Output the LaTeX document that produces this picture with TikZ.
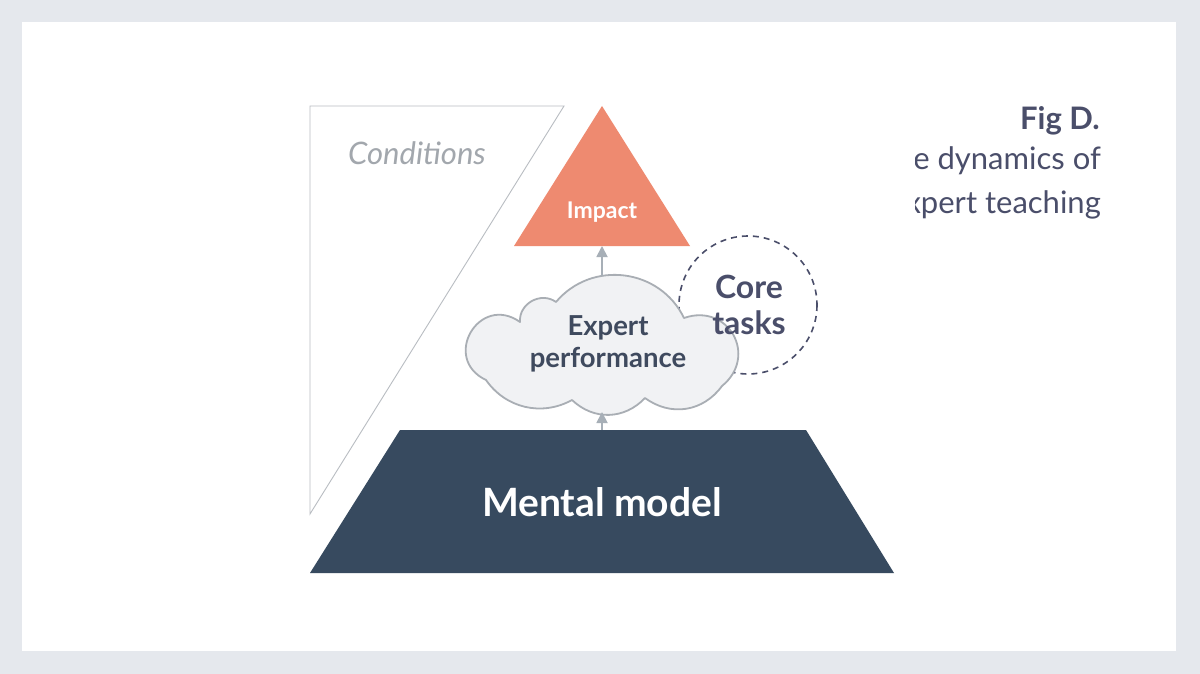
\documentclass[tikz,border=0pt]{standalone}
\usepackage{fontspec}
\setmainfont{Lato}
\usetikzlibrary{arrows.meta}
\definecolor{bggray}{HTML}{E5E8ED}
\definecolor{condline}{HTML}{B9BDC2}
\definecolor{condtext}{HTML}{A2A7AD}
\definecolor{impactc}{HTML}{EE8A70}
\definecolor{cloudfill}{HTML}{F1F2F4}
\definecolor{cloudline}{HTML}{A9AEB4}
\definecolor{arrowc}{HTML}{A7AFB7}
\definecolor{slate}{HTML}{374A5F}
\definecolor{darktext}{HTML}{3F4A5E}
\definecolor{figtext}{HTML}{4A4E6A}
\tikzset{
  conn/.style={draw=arrowc, line width=1.8pt, -{Triangle[width=11pt,length=11pt]}},
  lbl/.style={inner sep=0pt, font=\bfseries},
  cloudline/.style={draw=cloudline, line width=1.8pt, fill=cloudfill, line join=round},
}
\begin{document}
\begin{tikzpicture}[x=1pt,y=-1pt]
\fill[bggray] (0,0) rectangle (1200,674);
\fill[white] (22,22) rectangle (1176,651);
\useasboundingbox (0,0) rectangle (1200,674);
% Conditions
\draw[condline, line width=0.9pt] (310,106) -- (564,106) -- (310,514) -- cycle;
\node[inner sep=0pt, text=condtext, font=\itshape\fontsize{31}{36}\selectfont] (cond) at (417,153) {Conditions};
% Impact triangle
\fill[impactc] (602,106) -- (690,246) -- (514,246) -- cycle;
\node[lbl, text=white, font=\bfseries\fontsize{23}{26}\selectfont] (impact) at (602,212) {Impact};
\coordinate (imbase) at (602,246);
% Core tasks circle
\draw[figtext, line width=1.6pt, dash pattern=on 6pt off 5pt] (748,305) circle (69);
% Cloud
\coordinate (v1) at (556,302);
\coordinate (v2) at (684,318);
\coordinate (v3) at (722,386);
\coordinate (v4) at (645,398);
\coordinate (v5) at (572,400);
\coordinate (v6) at (486,380);
\coordinate (v7) at (520,322);
\path[cloudline] (v1) to[bend left=57, looseness=1.1] (v2)
  to[bend left=80, looseness=1.55] (v3)
  to[bend left=45, looseness=1.05] (v4)
  to[bend left=45, looseness=1.05] (v5)
  to[bend left=42, looseness=1.0] (v6)
  to[bend left=95, looseness=1.9] (v7)
  to[bend left=65, looseness=1.15] (v1) -- cycle;
\coordinate (eptop) at (602,276);
\coordinate (epbot) at (602,412);
\node[lbl, text=darktext, align=center, font=\bfseries\fontsize{27.5}{32}\selectfont] (ep) at (608,344) {Expert\\performance};
\node[lbl, text=figtext, align=center, font=\bfseries\fontsize{32}{36}\selectfont] (core) at (749,305) {Core\\tasks};
% Mental model trapezoid
\fill[slate] (400,430) -- (806,430) -- (894,573) -- (310,573) -- cycle;
\coordinate (mmtop) at (602,430);
\node[lbl, text=white, font=\bfseries\fontsize{39}{46}\selectfont] (mm) at (602,502) {Mental model};
% connectors
\draw[conn] (eptop) -- (imbase);
\draw[conn] (mmtop) -- (epbot);
% Fig text
\node[lbl, text=figtext, anchor=base east, font=\bfseries\fontsize{31}{36}\selectfont] (fig) at (1100,130) {Fig D.};
\begin{scope}
\clip (915,135) rectangle (1176,230);
\node[inner sep=0pt, text=figtext, anchor=base east, font=\fontsize{31}{36}\selectfont] (dyn) at (1101,170) {The dynamics of};
\node[inner sep=0pt, text=figtext, anchor=base east, font=\fontsize{31}{36}\selectfont] (teach) at (1101,213) {expert teaching};
\end{scope}
\end{tikzpicture}
\end{document}
